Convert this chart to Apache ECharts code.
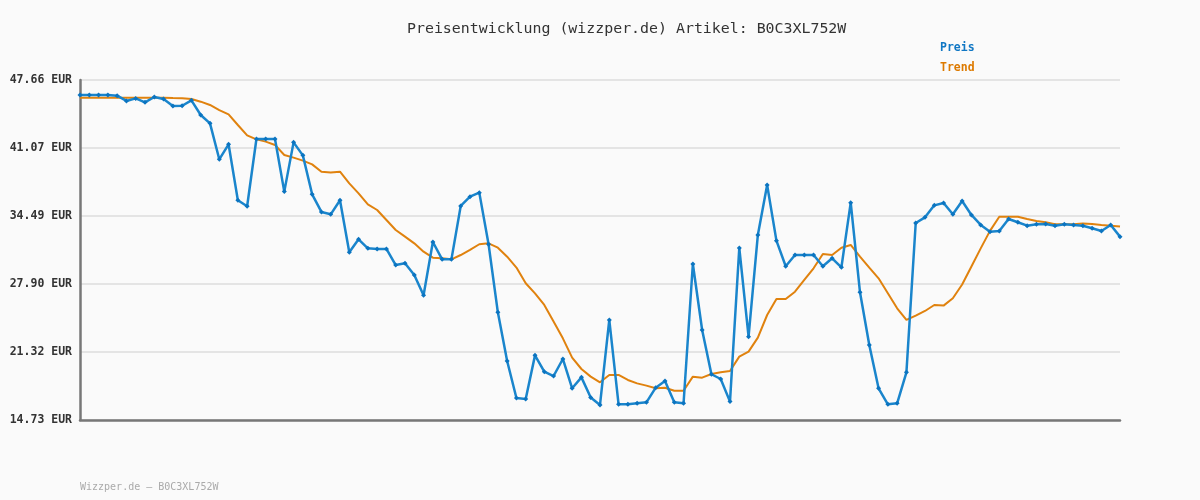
<!DOCTYPE html>
<html>
<head>
<meta charset="utf-8">
<script src="https://cdn.jsdelivr.net/npm/echarts@6/dist/echarts.min.js"></script>
<style>
html,body{margin:0;padding:0;background:#fafafa;}
#chart{width:1200px;height:500px;}
</style>
</head>
<body>
<div id="chart"></div>
<script>
const titleText = 'Preisentwicklung (wizzper.de) Artikel: B0C3XL752W';
const footerText = 'Wizzper.de – B0C3XL752W';
const seriesNames = ['Preis', 'Trend'];
const yMin = 14.73;
const yMax = 47.66;
const tickLabels = ['14.73 EUR', '21.32 EUR', '27.90 EUR', '34.49 EUR', '41.07 EUR', '47.66 EUR'];

const preis = [
  46.21, 46.21, 46.21, 46.21, 46.14, 45.63, 45.88, 45.50, 46.01, 45.82,
  45.14, 45.17, 45.69, 44.27, 43.46, 39.98, 41.43, 36.01, 35.43, 41.95,
  41.95, 41.95, 36.85, 41.62, 40.36, 36.59, 34.88, 34.65, 36.01, 30.97,
  32.23, 31.36, 31.30, 31.30, 29.74, 29.91, 28.78, 26.81, 31.97, 30.29,
  30.29, 35.46, 36.36, 36.75, 31.75, 25.16, 20.45, 16.86, 16.77, 20.99,
  19.41, 18.99, 20.64, 17.80, 18.86, 16.90, 16.19, 24.42, 16.25, 16.25,
  16.35, 16.44, 17.86, 18.51, 16.44, 16.35, 29.84, 23.45, 19.16, 18.70,
  16.51, 31.39, 22.80, 32.65, 37.49, 32.10, 29.62, 30.71, 30.71, 30.71,
  29.62, 30.39, 29.52, 35.78, 27.10, 22.00, 17.80, 16.25, 16.35, 19.35,
  33.81, 34.36, 35.52, 35.75, 34.65, 35.94, 34.59, 33.62, 32.97, 33.04,
  34.20, 33.88, 33.55, 33.68, 33.71, 33.55, 33.68, 33.62, 33.55, 33.30,
  33.04, 33.62, 32.49
];

const trend = [
  45.95, 45.95, 45.95, 45.95, 45.95, 45.95, 45.95, 45.95, 45.95, 45.95,
  45.92, 45.90, 45.82, 45.56, 45.24, 44.75, 44.33, 43.30, 42.30, 41.91,
  41.69, 41.37, 40.40, 40.14, 39.85, 39.49, 38.78, 38.69, 38.78, 37.65,
  36.68, 35.62, 35.07, 34.10, 33.13, 32.49, 31.84, 31.03, 30.45, 30.39,
  30.29, 30.71, 31.20, 31.75, 31.84, 31.42, 30.55, 29.49, 27.97, 27.00,
  25.87, 24.26, 22.64, 20.77, 19.67, 18.93, 18.38, 19.09, 19.09, 18.61,
  18.28, 18.06, 17.80, 17.86, 17.57, 17.57, 18.93, 18.83, 19.19, 19.35,
  19.48, 20.87, 21.35, 22.71, 24.90, 26.45, 26.45, 27.16, 28.29, 29.42,
  30.81, 30.71, 31.42, 31.68, 30.55, 29.49, 28.45, 27.00, 25.55, 24.42,
  24.84, 25.29, 25.87, 25.81, 26.52, 27.85, 29.60, 31.35, 33.05, 34.42,
  34.42, 34.42, 34.20, 34.00, 33.88, 33.68, 33.68, 33.68, 33.75, 33.71,
  33.62, 33.55, 33.46
];

const blue = '#1a85cc';
const orange = '#e0820e';
const mono = '"DejaVu Sans Mono", "Liberation Mono", monospace';

const chart = echarts.init(document.getElementById('chart'));
chart.setOption({
  animation: false,
  backgroundColor: '#fafafa',
  title: {
    text: titleText,
    left: 402,
    top: 17,
    textStyle: { fontFamily: mono, fontSize: 14.9, fontWeight: 'normal', color: '#333' }
  },
  legend: {
    orient: 'vertical',
    left: 930,
    top: 37,
    itemGap: 8,
    itemWidth: 0,
    itemHeight: 10,
    selectedMode: false,
    data: [
      { name: seriesNames[0], icon: 'none', textStyle: { color: '#1077c4' } },
      { name: seriesNames[1], icon: 'none', textStyle: { color: '#dd7a00' } }
    ],
    textStyle: { fontFamily: mono, fontSize: 11.5, fontWeight: 'bold' }
  },
  graphic: [{
    type: 'text',
    left: 80,
    top: 482,
    style: { text: footerText, fontFamily: mono, fontSize: 10, fill: '#aaaaaa' }
  }],
  grid: { left: 80, right: 80, top: 80, bottom: 80, containLabel: false },
  xAxis: {
    type: 'category',
    boundaryGap: false,
    axisLine: { show: true, lineStyle: { color: '#777', width: 2.5 } },
    axisTick: { show: false },
    axisLabel: { show: false },
    splitLine: { show: false }
  },
  yAxis: [
    {
      type: 'value',
      position: 'left',
      min: yMin,
      max: yMax,
      axisLine: { show: true, lineStyle: { color: '#777', width: 2.5 } },
      axisTick: { show: false },
      axisLabel: { show: false },
      splitLine: { show: false }
    },
    {
      type: 'value',
      position: 'left',
      min: 0,
      max: tickLabels.length - 1,
      interval: 1,
      axisLine: { show: false },
      axisTick: { show: false },
      axisLabel: {
        margin: 8,
        fontFamily: mono,
        fontSize: 11.5,
        fontWeight: 'bold',
        color: '#333',
        formatter: function (v) { return tickLabels[Math.round(v)]; }
      },
      splitLine: { show: true, lineStyle: { color: '#e4e4e4', width: 2 } }
    }
  ],
  series: [
    {
      name: seriesNames[0],
      type: 'line',
      yAxisIndex: 0,
      data: preis,
      symbol: 'diamond',
      symbolSize: 5,
      showAllSymbol: true,
      lineStyle: { color: blue, width: 2.5 },
      itemStyle: { color: '#0b74c0' },
      z: 3
    },
    {
      name: seriesNames[1],
      type: 'line',
      yAxisIndex: 0,
      data: trend,
      symbol: 'none',
      lineStyle: { color: orange, width: 2 },
      itemStyle: { color: orange },
      z: 2
    }
  ]
});
</script>
</body>
</html>
